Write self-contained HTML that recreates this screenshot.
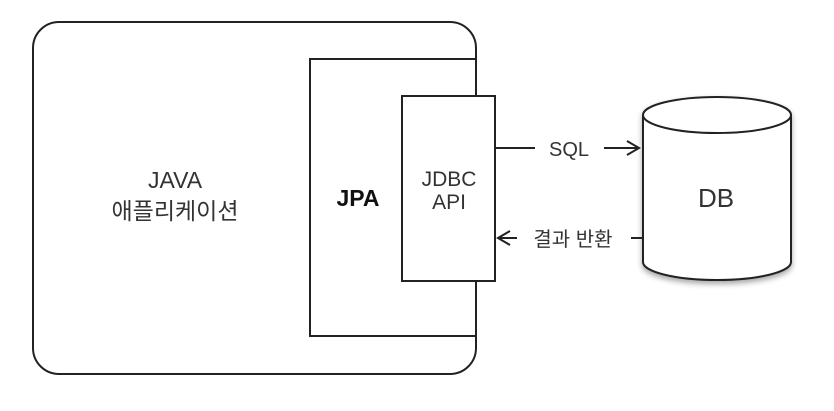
<!DOCTYPE html>
<html><head><meta charset="utf-8"><style>
html,body{margin:0;padding:0;background:#fff;}
svg text{font-family:"Liberation Sans","Noto Sans CJK KR",sans-serif;fill:#333;}
</style></head><body>
<svg width="834" height="406" viewBox="0 0 834 406" xmlns="http://www.w3.org/2000/svg">
<defs><filter id="sh" x="-20%" y="-20%" width="140%" height="140%"><feDropShadow dx="0" dy="3" stdDeviation="3" flood-color="#000" flood-opacity="0.35"/></filter></defs>
<rect x="33" y="22" width="443" height="352" rx="26" ry="26" fill="#fff" stroke="#222" stroke-width="2"/>
<rect x="310" y="59" width="166" height="277" fill="#fff" stroke="#222" stroke-width="2"/>
<rect x="402" y="96" width="93" height="185" fill="#fff" stroke="#222" stroke-width="2"/>
<text x="175" y="188" font-size="23" text-anchor="middle">JAVA</text>
<text x="175" y="219" font-size="23" text-anchor="middle">애플리케이션</text>
<text x="358" y="206" font-size="23" font-weight="bold" text-anchor="middle" style="fill:#111">JPA</text>
<text x="449" y="186" font-size="21" text-anchor="middle">JDBC</text>
<text x="449" y="209" font-size="21" text-anchor="middle">API</text>
<g filter="url(#sh)">
<path d="M643 115 L643 262 A74 18 0 0 0 791 262 L791 115 A74 18 0 0 0 643 115 Z" fill="#fff" stroke="#222" stroke-width="2"/>
</g>
<path d="M643 115 A74 18 0 0 0 791 115" fill="none" stroke="#222" stroke-width="2"/>
<text x="716" y="207" font-size="26" text-anchor="middle">DB</text>
<line x1="495" y1="148" x2="535" y2="148" stroke="#222" stroke-width="2"/>
<text x="569" y="156" font-size="20" text-anchor="middle">SQL</text>
<line x1="604" y1="148" x2="639" y2="148" stroke="#222" stroke-width="2"/>
<path d="M627 141 L639 148 L627 155" fill="none" stroke="#222" stroke-width="2"/>
<line x1="498" y1="238" x2="517" y2="238" stroke="#222" stroke-width="2"/>
<path d="M510 231 L498 238 L510 245" fill="none" stroke="#222" stroke-width="2"/>
<text x="573" y="246" font-size="20" text-anchor="middle">결과 반환</text>
<line x1="631" y1="238" x2="643" y2="238" stroke="#222" stroke-width="2"/>
</svg>
</body></html>
